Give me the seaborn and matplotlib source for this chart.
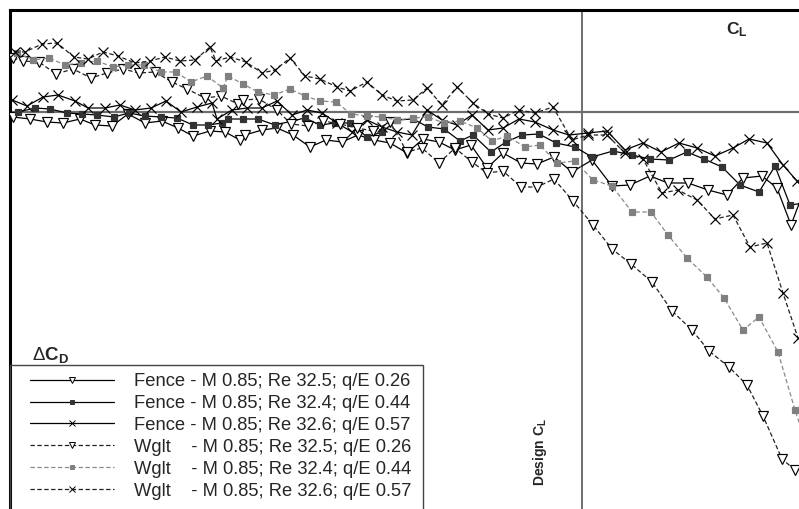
import matplotlib
import numpy as np
import pandas as pd
import seaborn as sns

matplotlib.use("Agg")
import matplotlib.pyplot as plt
from matplotlib.patches import Rectangle


# CL in thousandths, delta CD in chart units (positive above the zero line)
F26_CL = [3, 20, 37, 53, 70, 85, 102, 118, 135, 152, 168, 183, 200, 215, 230, 235, 252, 267, 283,
          300, 316, 332, 348, 364, 380, 397, 413, 429, 445, 461, 477, 493, 511, 527, 544, 562, 582,
          602, 620, 640, 658, 678, 698, 717, 733, 752, 767, 781, 795]
F26_DCD = [-5, -7, -10, -11, -7, -13, -14, -2, -11, -9, -16, -24, -19, -20, -28, -23, -18, -16, -23,
           -35, -28, -30, -23, -28, -31, -41, -27, -30, -38, -33, -56, -41, -51, -52, -45, -60, -48,
           -74, -73, -64, -71, -71, -78, -83, -66, -64, -76, -113, -76]

F44_CL = [8, 25, 40, 57, 72, 87, 104, 119, 135, 151, 167, 183, 198, 212, 218, 233, 248, 265, 295,
          310, 325, 340, 357, 372, 387, 403, 418, 434, 450, 463, 481, 496, 512, 529, 546, 565, 582,
          603, 622, 640, 659, 677, 694, 712, 730, 749, 765, 780, 795]
F44_DCD = [0, 4, 3, -1, -2, -3, -5, -1, -4, -5, -6, -13, -13, -11, -7, -7, -7, -13, -6,
           -13, -11, -11, -25, -20, -8, -7, -15, -17, -29, -23, -40, -30, -23, -22, -31, -35, -45,
           -39, -43, -47, -48, -40, -47, -55, -73, -80, -54, -93, -91]

F57_CL = [2, 17, 33, 48, 65, 78, 95, 110, 125, 141, 156, 171, 187, 202, 207, 222, 237, 252, 267,
          282, 297, 312, 327, 342, 357, 372, 387, 402, 417, 432, 447, 462, 478, 493, 509, 525, 543,
          559, 578, 597, 615, 633, 651, 669, 687, 705, 723, 739, 757, 773, 787, 800]
F57_DCD = [12, 6, 15, 17, 11, 4, 4, 7, 2, 4, 11, 0, 5, 9, -7, 2, 4, 4, 11,
           -3, 2, -1, -11, -20, -8, -15, -20, -23, 2, -8, -13, -3, -18, -16, -7, -10, -18,
           -23, -21, -19, -38, -31, -40, -31, -36, -44, -36, -27, -31, -53, -69, -83]

W26_CL = [3, 13, 29, 46, 63, 81, 97, 113, 129, 145, 162, 177, 195, 211, 228, 233, 249, 267, 281,
          298, 313, 330, 347, 363, 380, 397, 412, 429, 445, 462, 477, 493, 511, 527, 544, 563, 583,
          602, 621, 642, 662, 682, 699, 719, 737, 753, 772, 785]
W26_DCD = [54, 51, 50, 38, 43, 34, 39, 43, 39, 40, 30, 23, 14, 16, 8, 12, 13, 2, -12,
           -14, -9, -12, -16, -19, -10, -40, -36, -51, -36, -50, -61, -59, -75, -75, -67, -89, -113,
           -137, -152, -170, -199, -218, -239, -255, -273, -304, -347, -358]

W44_CL = [7, 23, 39, 55, 71, 87, 103, 118, 134, 151, 166, 181, 197, 213, 218, 233, 248, 264, 280,
          295, 310, 326, 341, 357, 372, 387, 403, 418, 434, 450, 467, 482, 497, 515, 530, 547, 565,
          583, 602, 622, 641, 658, 677, 697, 714, 733, 749, 768, 785, 795]
W44_DCD = [59, 52, 54, 47, 49, 51, 45, 47, 47, 40, 40, 30, 36, 24, 36, 28, 20, 17, 23,
           16, 11, 10, -2, -4, -5, -8, -6, -5, -11, -9, -16, -29, -24, -35, -33, -51, -49,
           -68, -74, -100, -100, -123, -146, -165, -186, -218, -205, -240, -298, -328]

W57_CL = [5, 15, 32, 47, 64, 78, 93, 108, 125, 140, 155, 170, 185, 200, 206, 220, 236, 252, 265,
          280, 295, 310, 327, 340, 357, 372, 387, 403, 417, 432, 447, 463, 478, 493, 509, 525, 543,
          562, 578, 597, 615, 633, 652, 668, 687, 705, 723, 740, 757, 773, 788]
W57_DCD = [60, 60, 68, 69, 55, 53, 60, 56, 49, 51, 55, 51, 52, 65, 51, 55, 50, 39, 42,
           54, 36, 33, 25, 21, 30, 17, 11, 12, 24, 7, 25, 9, -2, -6, 2, -1, 5,
           -28, -23, -23, -41, -47, -81, -78, -88, -107, -103, -135, -131, -181, -226]

DESIGN_CL = 572

LABELS = [
    "Fence - M 0.85; Re 32.5; q/E 0.26",
    "Fence - M 0.85; Re 32.4; q/E 0.44",
    "Fence - M 0.85; Re 32.6; q/E 0.57",
    "Wglt    - M 0.85; Re 32.5; q/E 0.26",
    "Wglt    - M 0.85; Re 32.4; q/E 0.44",
    "Wglt    - M 0.85; Re 32.6; q/E 0.57",
]


def setup_style() -> None:
    sns.set_theme(style="white")
    plt.rcParams["font.family"] = ["Liberation Sans", "DejaVu Sans"]
    plt.rcParams["mathtext.fontset"] = "custom"
    plt.rcParams["mathtext.rm"] = "Liberation Sans"
    plt.rcParams["mathtext.bf"] = "Liberation Sans:bold"
    plt.rcParams["mathtext.it"] = "Liberation Sans:italic"


def main() -> None:
    setup_style()
    fig = plt.figure(figsize=(7.99, 5.09), dpi=100)
    W, H = 799, 509
    ax = fig.add_axes([10 / W, 0, 789 / W, 499 / H])

    series = [
        (F26_CL, F26_DCD, "-", "v", "white", "black", "black", 6.5),
        (F44_CL, F44_DCD, "-", "s", "#333333", "#333333", "black", 4.0),
        (F57_CL, F57_DCD, "-", "x", "black", "black", "black", 7.0),
        (W26_CL, W26_DCD, (0, (3.5, 2)), "v", "white", "black", "#222222", 6.5),
        (W44_CL, W44_DCD, (0, (3.5, 2)), "s", "#808080", "#808080", "#8a8a8a", 4.0),
        (W57_CL, W57_DCD, (0, (3.5, 2)), "x", "black", "black", "#222222", 7.0),
    ]

    for (cl, dcd, ls, mk, mfc, mec, col, ms), label in zip(series, LABELS):
        df = pd.DataFrame({"CL": cl, "dCD": dcd})
        sns.lineplot(
            data=df, x="CL", y="dCD", ax=ax, estimator=None, sort=False,
            color=col, linestyle=ls, linewidth=0.9, marker=mk, markersize=ms,
            markerfacecolor=mfc, markeredgecolor=mec, markeredgewidth=0.85,
            label=label, zorder=3,
        )

    ax.axhline(0, color="#6e6e6e", lw=1.6, zorder=2)
    ax.axvline(DESIGN_CL, color="#6e6e6e", lw=1.4, zorder=2)

    ax.set_xlim(0, 789)
    ax.set_ylim(-397, 102)
    ax.set_xticks([])
    ax.set_yticks([])
    ax.set_xlabel("")
    ax.set_ylabel("")
    for side in ["right", "bottom"]:
        ax.spines[side].set_visible(False)
    for side in ["left", "top"]:
        ax.spines[side].set_color("black")
        ax.spines[side].set_linewidth(2.2)

    handles, labels = ax.get_legend_handles_labels()
    leg = ax.legend(
        handles, labels, loc="upper left",
        bbox_to_anchor=(30 / W, 1 - 373 / H), bbox_transform=fig.transFigure,
        frameon=False, fontsize=13.2, handlelength=4.6, handletextpad=1.1,
        labelspacing=0.27, borderpad=0.0, borderaxespad=0.0,
    )
    for h in leg.legend_handles:
        h.set_markersize(h.get_markersize() * 0.6)
        h.set_markeredgewidth(0.7)
    fig.patches.append(Rectangle((10 / W, -0.05), 413 / W, 1 - 365 / H + 0.05,
                                 transform=fig.transFigure, fill=False,
                                 edgecolor="#444444", lw=1.0))

    fig.text(737 / W, 1 - 30 / H, r"$\mathbf{C_L}$", ha="center", va="center", fontsize=12.5)
    fig.text(51 / W, 1 - 355 / H, r"$\Delta\mathbf{C_D}$", ha="center", va="center", fontsize=13.5)
    fig.text(540 / W, 1 - 452 / H, r"$\mathbf{Design\ C_L}$", rotation=90,
             ha="center", va="center", fontsize=10)

    fig.savefig("out.png", dpi=100, facecolor="white")
    plt.close(fig)


if __name__ == "__main__":
    main()
